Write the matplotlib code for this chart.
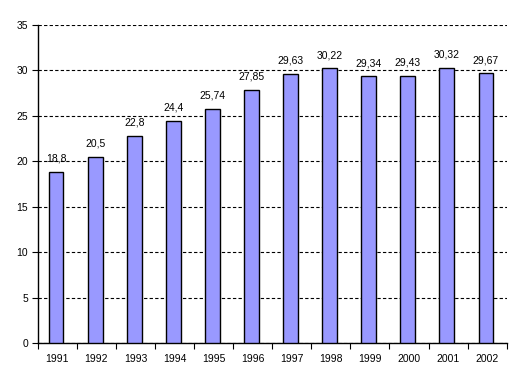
import matplotlib
matplotlib.use("Agg")
import matplotlib.pyplot as plt
import numpy as np

years = ["1991", "1992", "1993", "1994", "1995", "1996", "1997", "1998", "1999", "2000", "2001", "2002"]
values = [18.8, 20.5, 22.8, 24.4, 25.74, 27.85, 29.63, 30.22, 29.34, 29.43, 30.32, 29.67]
labels = ["18,8", "20,5", "22,8", "24,4", "25,74", "27,85", "29,63", "30,22", "29,34", "29,43", "30,32", "29,67"]
yticks = [0, 5, 10, 15, 20, 25, 30, 35]

plt.rcParams['font.family'] = ['Liberation Sans', 'DejaVu Sans']

fig = plt.figure(figsize=(5.21, 3.85), dpi=100)
ax = fig.add_axes([37.7/521, 1-343/385, (506.7-37.7)/521, (343-25)/385])

x = np.arange(len(years))
ax.bar(x - 0.03, values, width=0.38, color="#9999FF", edgecolor="black", linewidth=1.0, zorder=3)
for xi, v, lab in zip(x, values, labels):
    ax.annotate(lab, (xi - 0.03, v), xytext=(0, 6), textcoords="offset points",
                ha="center", va="bottom", fontsize=7.5, zorder=4)

ax.set_xlim(-0.5, len(years) - 0.5)
ax.set_ylim(0, 35)
ax.set_yticks(yticks)
ax.set_yticklabels([str(t) for t in yticks], fontsize=7.5)
ax.set_xticks(x)
ax.set_xticklabels(years, fontsize=7.5)
ax.set_xticks(np.arange(-0.5, len(years)), minor=True)
ax.tick_params(axis="x", which="major", length=0, pad=8)
ax.tick_params(axis="x", which="minor", length=4, width=0.8, direction="out")
ax.tick_params(axis="y", length=4, width=0.8, direction="out", pad=3)

ax.yaxis.grid(True, color="black", linestyle=(0, (3, 2)), linewidth=0.8, zorder=0)
ax.set_axisbelow(True)
for s in ["top", "right"]:
    ax.spines[s].set_visible(False)
for s in ["left", "bottom"]:
    ax.spines[s].set_linewidth(1.0)

fig.savefig("out.png", dpi=100)
